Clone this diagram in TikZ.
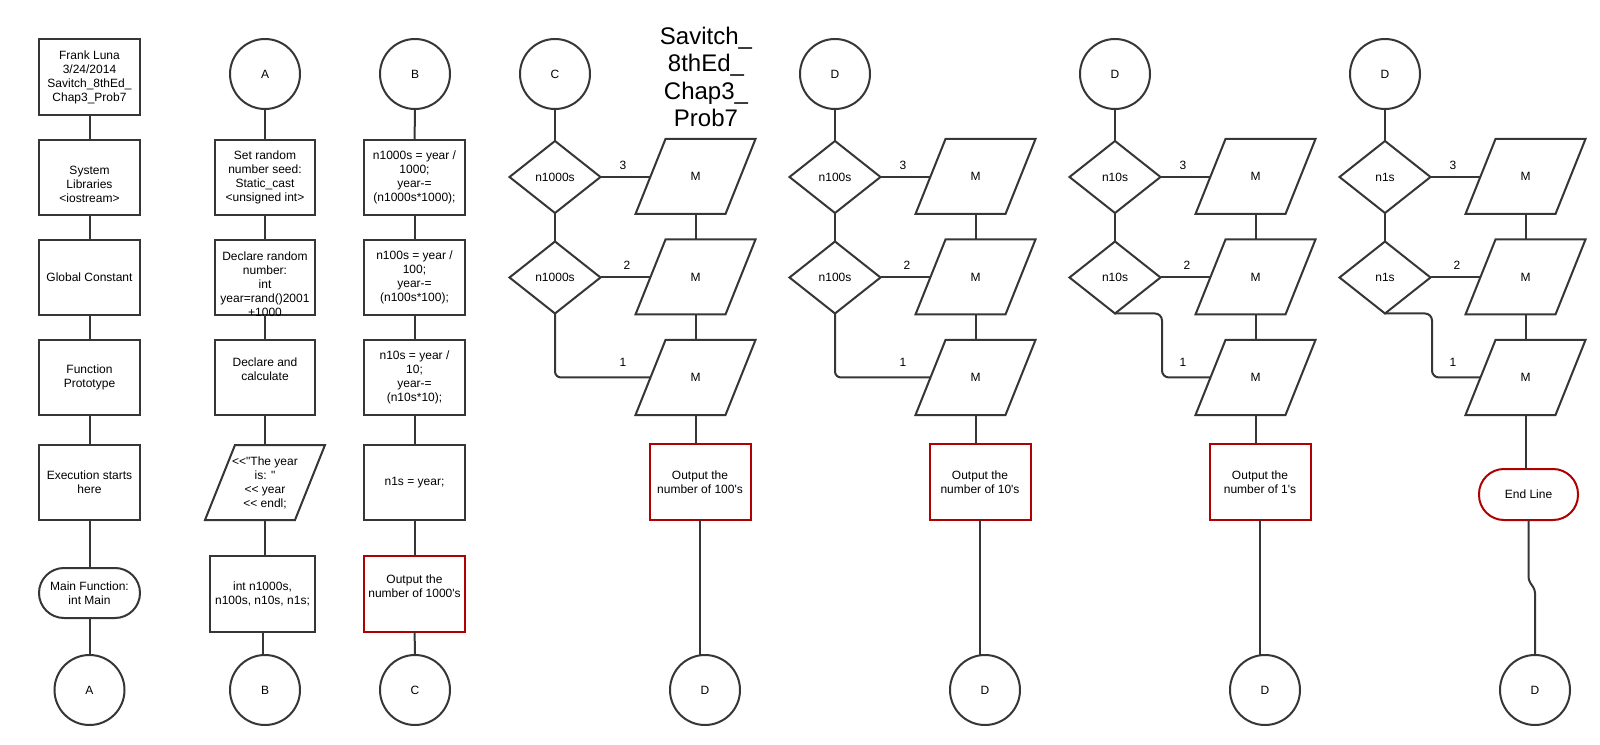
\documentclass[tikz,border=0pt]{standalone}
\usepackage{fontspec}
\setmainfont{Liberation Sans}[Ligatures=TeXOff]
\usetikzlibrary{shapes.geometric}
\newdimen\px \px=0.75pt
\definecolor{linegray}{HTML}{363636}
\definecolor{darkred}{HTML}{B20000}
\newcommand\blankline{\vphantom{Ag}}
\begin{document}
\begin{tikzpicture}[x=0.75pt,y=-0.75pt,
  every node/.style={font=\fontsize{9pt}{10.5pt}\selectfont, align=center, inner sep=0pt, outer sep=0pt, text=black},
  conn/.style={draw=linegray, line width=2\px},
  procbox/.style={rectangle, draw=linegray, line width=2\px, minimum width=101\px, minimum height=75\px},
  redbox/.style={procbox, draw=darkred},
  conncircle/.style={circle, draw=linegray, line width=2\px, minimum size=70\px},
  decision/.style={diamond, draw=linegray, line width=2\px, minimum width=91\px, minimum height=72\px},
  terminal/.style={rectangle, draw=linegray, line width=2\px, rounded corners=25\px, minimum width=101\px, minimum height=50\px},
  iobox/.style={rectangle, minimum width=90\px, minimum height=75\px},
  ioline/.style={draw=linegray, line width=2\px},
  branchlabel/.style={font=\fontsize{9pt}{10.5pt}\selectfont},
  titletext/.style={font=\fontsize{18pt}{20.6pt}\selectfont}
]
\useasboundingbox[fill=white] (0,0) rectangle (1600,745);

% ---------- column 1 ----------
\node[procbox, minimum height=76\px] (a1) at (89.5,77) {Frank Luna\\3/24/2014\\Savitch\_8thEd\_\\Chap3\_Prob7};
\node[procbox] (a2) at (89.5,177.5) {\blankline\\System\\Libraries\\<iostream>};
\node[procbox] (a3) at (89.5,277.5) {Global Constant};
\node[procbox] (a4) at (89.5,377.5) {Function\\Prototype};
\node[procbox] (a5) at (89.5,482.5) {Execution starts\\here};
\node[terminal] (a6) at (89.5,593) {Main Function:\\int Main};
\node[conncircle] (aA) at (89.5,690) {A};
\draw[conn] (a1) -- (a2);
\draw[conn] (a2) -- (a3);
\draw[conn] (a3) -- (a4);
\draw[conn] (a4) -- (a5);
\draw[conn] (a5) -- (a6);
\draw[conn] (a6) -- (aA);

% ---------- column 2 ----------
\node[conncircle] (bA) at (265,74) {A};
\node[procbox, minimum width=100\px] (b1) at (265,177.5) {Set random\\number seed:\\ Static\_cast\\<unsigned int>};
\node[procbox, minimum width=100\px,
      label={[align=center]center:{\blankline\\Declare random\\number:\\int\\year=rand()2001\\+1000}}] (b2) at (265,277.5) {};
\node[procbox, minimum width=100\px] (b3) at (265,377.5) {Declare and\\calculate\\\blankline};
\node[iobox] (b4) at (265,482.5) {<<"The year\\is: "\\<< year\\<< endl;};
\node[procbox, minimum width=105\px, minimum height=76\px] (b5) at (262.5,594) {int n1000s,\\n100s, n10s, n1s;};
\node[conncircle] (bB) at (265,690) {B};
\draw[conn] (bA) -- (b1);
\draw[conn] (b1) -- (b2);
\draw[conn] (b2) -- (b3);
\draw[conn] (b3) -- (b4);
\draw[conn] (b4.south) -- (b4.south |- b5.north);
\draw[conn] (b5.south) -- (b5.south |- bB.north);

% ---------- column 3 ----------
\node[conncircle] (cB) at (415,74) {B};
\node[procbox] (c1) at (414.5,177.5) {n1000s = year /\\1000;\\year-=\\(n1000s*1000);};
\node[procbox] (c2) at (414.5,277.5) {n100s = year /\\100;\\year-=\\(n100s*100);};
\node[procbox] (c3) at (414.5,377.5) {n10s = year /\\10;\\year-=\\(n10s*10);};
\node[procbox] (c4) at (414.5,482.5) {n1s = year;};
\node[redbox, minimum height=76\px] (c5) at (414.5,594) {Output the\\number of 1000's\\\blankline};
\node[conncircle] (cC) at (415,690) {C};
\draw[conn] (cB) -- (c1);
\draw[conn] (c1) -- (c2);
\draw[conn] (c2) -- (c3);
\draw[conn] (c3) -- (c4);
\draw[conn] (c4) -- (c5);
\draw[conn] (c5) -- (cC);

% ---------- title ----------
\node[titletext] (title) at (706,77) {Savitch\_\\8thEd\_\\Chap3\_\\Prob7};

% ---------- column 4 (X=555) ----------
\node[conncircle] (dC) at (555,74) {C};
\node[decision] (d1) at (555,177) {n1000s};
\node[decision] (d2) at (555,277.5) {n1000s};
\node[iobox] (dp1) at (695.5,176.5) {M};
\node[iobox] (dp2) at (695.5,277) {M};
\node[iobox] (dp3) at (695.5,377.5) {M};
\node[redbox, minimum height=76\px] (dr) at (700,482) {Output the\\number of 100's};
\node[conncircle] (dD) at (705,690) {D};
\draw[conn] (dC) -- (d1);
\draw[conn] (d1) -- (d2);
\draw[conn] (d1.east) -- (d1.east -| dp1.west);
\draw[conn] (d2.east) -- (d2.east -| dp2.west);
\draw[conn, rounded corners=6\px] (d2.south) |- (dp3.west);
\draw[conn] (dp1) -- (dp2);
\draw[conn] (dp2) -- (dp3);
\draw[conn] (dp3.south) -- (dp3.south |- dr.north);
\draw[conn] (dr.south) -- (dr.south |- dD.north);
\node[branchlabel] (dl3) at (623,165) {3};
\node[branchlabel] (dl2) at (627,265) {2};
\node[branchlabel] (dl1) at (623,362) {1};

% ---------- column 5 (X=835) ----------
\node[conncircle] (eD) at (835,74) {D};
\node[decision] (e1) at (835,177) {n100s};
\node[decision] (e2) at (835,277.5) {n100s};
\node[iobox] (ep1) at (975.5,176.5) {M};
\node[iobox] (ep2) at (975.5,277) {M};
\node[iobox] (ep3) at (975.5,377.5) {M};
\node[redbox, minimum height=76\px] (er) at (980,482) {Output the\\number of 10's};
\node[conncircle] (eD2) at (985,690) {D};
\draw[conn] (eD) -- (e1);
\draw[conn] (e1) -- (e2);
\draw[conn] (e1.east) -- (e1.east -| ep1.west);
\draw[conn] (e2.east) -- (e2.east -| ep2.west);
\draw[conn, rounded corners=6\px] (e2.south) |- (ep3.west);
\draw[conn] (ep1) -- (ep2);
\draw[conn] (ep2) -- (ep3);
\draw[conn] (ep3.south) -- (ep3.south |- er.north);
\draw[conn] (er.south) -- (er.south |- eD2.north);
\node[branchlabel] (el3) at (903,165) {3};
\node[branchlabel] (el2) at (907,265) {2};
\node[branchlabel] (el1) at (903,362) {1};

% ---------- column 6 (X=1115) ----------
\node[conncircle] (fD) at (1115,74) {D};
\node[decision] (f1) at (1115,177) {n10s};
\node[decision] (f2) at (1115,277.5) {n10s};
\node[iobox] (fp1) at (1255.5,176.5) {M};
\node[iobox] (fp2) at (1255.5,277) {M};
\node[iobox] (fp3) at (1255.5,377.5) {M};
\node[redbox, minimum height=76\px] (fr) at (1260,482) {Output the\\number of 1's};
\node[conncircle] (fD2) at (1265,690) {D};
\draw[conn] (fD) -- (f1);
\draw[conn] (f1) -- (f2);
\draw[conn] (f1.east) -- (f1.east -| fp1.west);
\draw[conn] (f2.east) -- (f2.east -| fp2.west);
\draw[conn, rounded corners=7\px] (f2.south) -- ++(47,0) |- (fp3.west);
\draw[conn] (fp1) -- (fp2);
\draw[conn] (fp2) -- (fp3);
\draw[conn] (fp3.south) -- (fp3.south |- fr.north);
\draw[conn] (fr.south) -- (fr.south |- fD2.north);
\node[branchlabel] (fl3) at (1183,165) {3};
\node[branchlabel] (fl2) at (1187,265) {2};
\node[branchlabel] (fl1) at (1183,362) {1};

% ---------- column 7 (X=1385) ----------
\node[conncircle] (gD) at (1385,74) {D};
\node[decision] (g1) at (1385,177) {n1s};
\node[decision] (g2) at (1385,277.5) {n1s};
\node[iobox] (gp1) at (1525.5,176.5) {M};
\node[iobox] (gp2) at (1525.5,277) {M};
\node[iobox] (gp3) at (1525.5,377.5) {M};
\node[terminal, draw=darkred, minimum width=99\px, minimum height=51\px] (gend) at (1528.5,494.5) {End Line};
\node[conncircle] (gD2) at (1535,690) {D};
\draw[conn] (gD) -- (g1);
\draw[conn] (g1) -- (g2);
\draw[conn] (g1.east) -- (g1.east -| gp1.west);
\draw[conn] (g2.east) -- (g2.east -| gp2.west);
\draw[conn, rounded corners=7\px] (g2.south) -- ++(47,0) |- (gp3.west);
\draw[conn] (gp1) -- (gp2);
\draw[conn] (gp2) -- (gp3);
\draw[conn] (gp3.south) -- (gp3.south |- gend.north);
\draw[conn, rounded corners=3\px] (gend.south) -- ([yshift=-60\px]gend.south) -- ([yshift=65\px]gD2.north) -- (gD2.north);
\node[branchlabel] (gl3) at (1453,165) {3};
\node[branchlabel] (gl2) at (1457,265) {2};
\node[branchlabel] (gl1) at (1453,362) {1};

% ---------- parallelogram outlines ----------
\foreach \n in {b4,dp1,dp2,dp3,ep1,ep2,ep3,fp1,fp2,fp3,gp1,gp2,gp3}
  \draw[ioline] ([xshift=-15\px]\n.south west) -- ([xshift=15\px]\n.north west) -- ([xshift=15\px]\n.north east) -- ([xshift=-15\px]\n.south east) -- cycle;
\end{tikzpicture}
\end{document}
